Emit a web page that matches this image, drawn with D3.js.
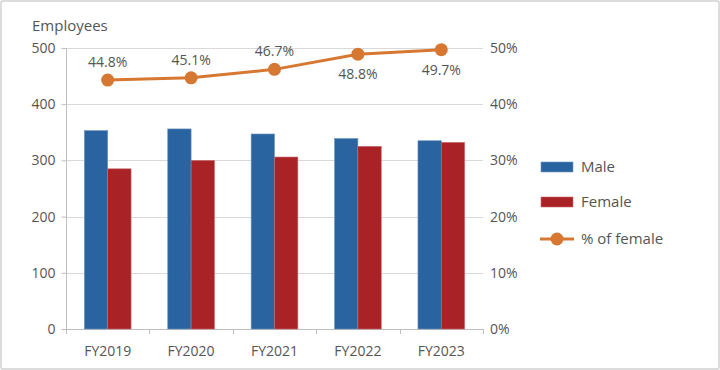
<!DOCTYPE html>
<html><head><meta charset="utf-8">
<script src="https://cdn.jsdelivr.net/npm/d3@7"></script>
<style>
html,body{margin:0;padding:0;background:#fff;}
svg{display:block;font-family:"Open Sans","Noto Sans",sans-serif;}
</style></head>
<body><svg id="c" width="720" height="370"></svg>
<script>
const categories = ["FY2019","FY2020","FY2021","FY2022","FY2023"];
const male = [353, 356, 347, 339, 335];
const female = [285, 300, 306, 325, 332];
const pctFemale = [44.3, 44.7, 46.2, 48.9, 49.7];
const pctLabels = ["44.8%","45.1%","46.7%","48.8%","49.7%"];
const labelAbove = [true, true, true, false, false];
const leftTicks = [0,100,200,300,400,500];
const rightTicks = [0,10,20,30,40,50];
const seriesNames = ["Male","Female","% of female"];

const C_MALE = "#2a64a0", C_FEMALE = "#a82226", C_LINE = "#d67832";
const TXT = "#555";

const svg = d3.select("#c");
svg.append("rect").attr("x",1).attr("y",1).attr("width",718).attr("height",368)
  .attr("fill","#fff").attr("stroke","#dcdcdc").attr("stroke-width",2).attr("rx",2);

const L = 66, R = 483, T = 48, B = 329;
const x = d3.scaleBand().domain(categories).range([L,R]).paddingInner(0.44).paddingOuter(0.22);
const x1 = d3.scaleBand().domain(["Male","Female"]).range([0,x.bandwidth()]);
const y = d3.scaleLinear().domain([0,500]).range([B,T]);
const y2 = d3.scaleLinear().domain([0,50]).range([B,T]);

// gridlines
svg.append("g").selectAll("line").data(leftTicks.filter(d=>d>0)).join("line")
  .attr("x1",L).attr("x2",R).attr("y1",d=>Math.round(y(d))+0.5).attr("y2",d=>Math.round(y(d))+0.5)
  .attr("stroke","#d9d9d9").attr("stroke-width",1);

// left axis
const ga = svg.append("g").attr("transform",`translate(${L+0.5},0)`)
  .call(d3.axisLeft(y).tickValues(leftTicks).tickSize(5).tickPadding(6));
ga.select(".domain").attr("stroke","#bfbfbf").attr("d",`M-0,${B}V${T}`);
ga.selectAll(".tick line").attr("stroke","#bfbfbf");
ga.selectAll(".tick text").attr("fill",TXT).style("font-size","14px").style("font-family","Open Sans");

// right axis labels
const gr = svg.append("g").attr("transform",`translate(${R},0)`)
  .call(d3.axisRight(y2).tickValues(rightTicks).tickSize(0).tickPadding(7).tickFormat(d=>d+"%"));
gr.select(".domain").remove();
gr.selectAll(".tick text").attr("fill",TXT).style("font-size","14px").style("font-family","Open Sans");

// bottom axis
const step = x.step();
svg.append("line").attr("x1",L).attr("x2",R).attr("y1",B+0.5).attr("y2",B+0.5).attr("stroke","#bfbfbf");
svg.append("g").selectAll("line").data(d3.range(categories.length+1)).join("line")
  .attr("x1",i=>Math.round(L+i*step)+0.5).attr("x2",i=>Math.round(L+i*step)+0.5)
  .attr("y1",B).attr("y2",B+5).attr("stroke","#bfbfbf");
svg.append("g").selectAll("text").data(categories).join("text")
  .attr("x",d=>x(d)+x.bandwidth()/2).attr("y",B+27)
  .attr("text-anchor","middle").attr("fill",TXT).style("font-size","14px").text(d=>d);

// bars
const bars = svg.append("g");
bars.selectAll("rect.m").data(categories).join("rect").attr("class","m")
  .attr("x",(d)=>x(d)+x1("Male")).attr("width",x1.bandwidth())
  .attr("y",(d,i)=>y(male[i])).attr("height",(d,i)=>B-y(male[i]))
  .attr("fill",C_MALE).attr("stroke","#6f95c0").attr("stroke-width",0.6);
bars.selectAll("rect.f").data(categories).join("rect").attr("class","f")
  .attr("x",(d)=>x(d)+x1("Female")).attr("width",x1.bandwidth())
  .attr("y",(d,i)=>y(female[i])).attr("height",(d,i)=>B-y(female[i]))
  .attr("fill",C_FEMALE).attr("stroke","#c86a6c").attr("stroke-width",0.6);

// line
const cx = d=>x(d)+x.bandwidth()/2;
const line = d3.line().x((d,i)=>cx(categories[i])).y(d=>y2(d));
svg.append("path").datum(pctFemale).attr("d",line).attr("fill","none")
  .attr("stroke",C_LINE).attr("stroke-width",3);
svg.append("g").selectAll("circle").data(pctFemale).join("circle")
  .attr("cx",(d,i)=>cx(categories[i])).attr("cy",d=>y2(d)).attr("r",6.5).attr("fill",C_LINE);
svg.append("g").selectAll("text").data(pctLabels).join("text")
  .attr("x",(d,i)=>cx(categories[i]))
  .attr("y",(d,i)=>y2(pctFemale[i]) + (labelAbove[i] ? -18 : 20))
  .attr("dy","0.35em").attr("text-anchor","middle").attr("fill",TXT)
  .style("font-size","14px").text(d=>d);

// title
svg.append("text").attr("x",32).attr("y",31).attr("fill",TXT).style("font-size","15px").text("Employees");

// legend
const lg = svg.append("g");
const ly = [167, 202, 239];
lg.append("rect").attr("x",541).attr("y",ly[0]-5).attr("width",32).attr("height",10).attr("fill",C_MALE).attr("stroke","#6f95c0").attr("stroke-width",0.6);
lg.append("rect").attr("x",541).attr("y",ly[1]-5).attr("width",32).attr("height",10).attr("fill",C_FEMALE).attr("stroke","#c86a6c").attr("stroke-width",0.6);
lg.append("line").attr("x1",540).attr("x2",574).attr("y1",ly[2]).attr("y2",ly[2]).attr("stroke",C_LINE).attr("stroke-width",3);
lg.append("circle").attr("cx",557).attr("cy",ly[2]).attr("r",6.5).attr("fill",C_LINE);
lg.selectAll("text").data(seriesNames).join("text")
  .attr("x",581).attr("y",(d,i)=>ly[i]).attr("dy","0.35em").attr("fill",TXT)
  .style("font-size","15px").text(d=>d);
</script></body></html>
